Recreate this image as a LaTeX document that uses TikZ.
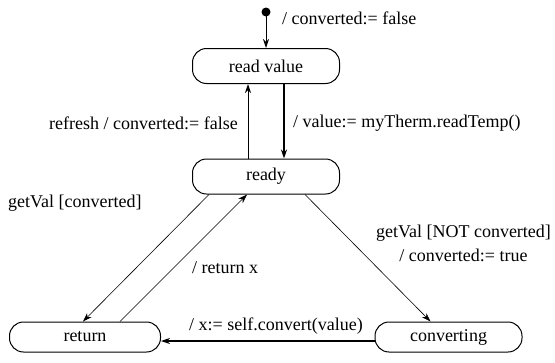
\documentclass[tikz,border=0pt]{standalone}
\usepackage{fontspec}
\setmainfont{Liberation Serif}
\usetikzlibrary{arrows.meta}
\begin{document}
\begin{tikzpicture}[x=1pt,y=-1pt,
  state/.style={draw,line width=1pt,rounded corners=14pt,minimum width=147pt,minimum height=35pt,inner sep=0pt},
  lbl/.style={inner sep=0pt,font=\fontsize{18}{22}\selectfont},
  arr/.style={-{Stealth[length=9pt,width=6pt]},line width=1pt},
  thin/.style={-{Stealth[length=9pt,width=6pt]},line width=0.6pt},
  every node/.style={font=\fontsize{18}{22}\selectfont}]
\useasboundingbox (0,0) rectangle (555,362);
\fill (266,12) circle (4.5pt) coordinate (init);
\node[state] (rv) at (266,66) {read value};
\node[state] (rd) at (266,176.5) {ready};
\node[state,minimum width=151pt,minimum height=30pt] (rt) at (85,337) {return};
\node[state,minimum height=30pt] (cv) at (448.5,337) {converting};
\draw[arr] (init) -- (rv.north);
\draw[arr] ([xshift=-18pt]rd.north) -- ([xshift=-18pt]rv.south);
\draw[arr,line width=1.8pt] ([xshift=18pt]rv.south) -- ([xshift=18pt]rd.north);
\draw[thin] ([xshift=-57pt]rd.south) -- ([xshift=-2pt]rt.north);
\draw[thin] ([xshift=35pt]rt.north) -- ([xshift=-19pt]rd.south);
\draw[thin] ([xshift=39pt]rd.south) -- ([xshift=-18pt]cv.north);
\draw[arr,line width=1.2pt] ([yshift=-4pt]cv.west) -- ([yshift=-4pt]rt.east);
\node[lbl,anchor=west] (l1) at (282,18) {/ converted:= false};
\node[lbl,anchor=east] (l2) at (238,123) {refresh / converted:= false};
\node[lbl,anchor=west] (l3) at (293,123) {/ value:= myTherm.readTemp()};
\node[lbl,anchor=west] (l4) at (8,203) {getVal [converted]};
\node[lbl,anchor=west] (l5) at (192,268) {/ return x};
\node[lbl,align=center] (l6) at (463.5,243.5) {getVal [NOT converted]\\[2pt]/ converted:= true};
\node[lbl,anchor=west] (l7) at (189,326) {/ x:= self.convert(value)};
\end{tikzpicture}
\end{document}
